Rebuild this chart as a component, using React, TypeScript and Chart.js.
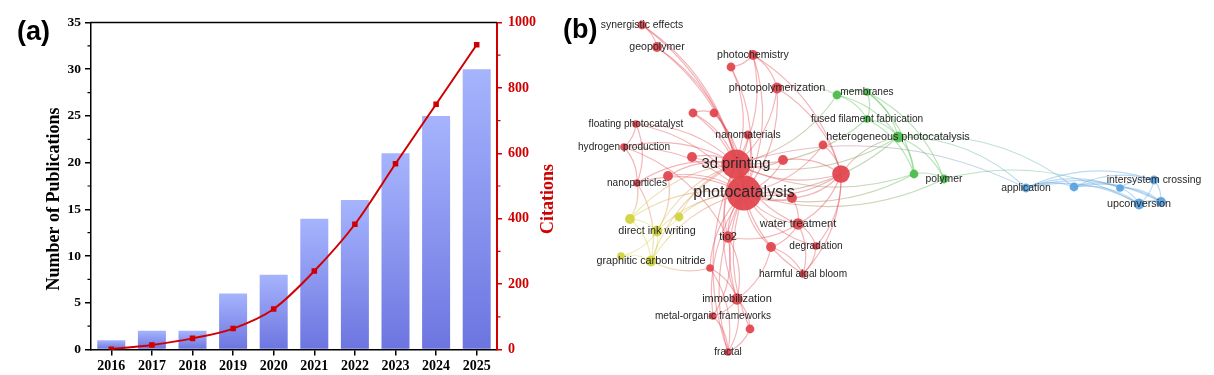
import React, { useEffect, useRef } from 'react';
import { Chart, registerables } from 'chart.js';

Chart.register(...registerables);

// ---------- Panel (a) data ----------
const years = ['2016', '2017', '2018', '2019', '2020', '2021', '2022', '2023', '2024', '2025'];
const publications = [1, 2, 2, 6, 8, 14, 16, 21, 25, 30];
const citations = [1, 14, 34, 64, 124, 240, 383, 568, 750, 932];
const publicationTicks = [0, 5, 10, 15, 20, 25, 30, 35];
const citationTicks = [0, 200, 400, 600, 800, 1000];

// ---------- Panel (b) data (keyword co-occurrence map) ----------
const keywordLabels = [
  'synergistic effects', 'geopolymer', 'photochemistry', '', 'photopolymerization',
  '', '', 'floating photocatalyst', 'nanomaterials', 'hydrogen production',
  '', '3d printing', '', '', '',
  '', 'nanoparticles', 'photocatalysis', '', 'water treatment',
  'tio2', '', 'degradation', '', 'harmful algal bloom',
  'immobilization', 'metal-organic frameworks', '', 'fractal',
  '', 'membranes', 'fused filament fabrication', 'heterogeneous photocatalysis', '', 'polymer',
  '', '', 'direct ink writing', '', 'graphitic carbon nitride',
  'application', '', '', 'intersystem crossing', 'upconversion', '',
];
const keywordX = [
  82, 97, 193, 171, 217,
  133, 154, 76, 188, 64,
  132, 176, 223, 263, 281,
  108, 77, 184, 232, 238,
  168, 211, 256, 150, 243,
  177, 153, 190, 168,
  277, 307, 307, 338, 354, 384,
  70, 119, 97, 61, 91,
  466, 514, 560, 594, 579, 601,
];
const keywordY = [
  25, 47, 55, 67, 88,
  113, 113, 124, 135, 147,
  157, 164, 160, 145, 174,
  176, 183, 193, 198, 224,
  237, 247, 246, 268, 274,
  299, 316, 329, 352,
  95, 92, 119, 137, 174, 179,
  219, 217, 231, 256, 261,
  188, 187, 188, 180, 204, 202,
];
const keywordOccurrences = [
  4, 5, 5, 4, 6,
  4, 4, 3, 4, 3,
  5, 44, 5, 4, 16,
  5, 3, 63, 5, 7,
  7, 5, 3, 3, 3,
  7, 3, 4, 3,
  4, 3, 3, 6, 4, 4,
  5, 4, 6, 3, 6,
  4, 4, 3, 4, 6, 5,
];
const keywordCluster = [
  0, 0, 0, 0, 0,
  0, 0, 0, 0, 0,
  0, 0, 0, 0, 0,
  0, 0, 0, 0, 0,
  0, 0, 0, 0, 0,
  0, 0, 0, 0,
  1, 1, 1, 1, 1, 1,
  2, 2, 2, 2, 2,
  3, 3, 3, 3, 3, 3,
];
const keywordLinks: [number, number][] = [
  [0, 1], [0, 11], [0, 17], [1, 11], [1, 17],
  [2, 3], [2, 4], [2, 11], [2, 17], [2, 14], [3, 11], [3, 17],
  [4, 11], [4, 17], [4, 14], [4, 29],
  [5, 6], [5, 11], [5, 17], [6, 11], [6, 17],
  [7, 9], [7, 11], [7, 17], [7, 16],
  [8, 11], [8, 17],
  [9, 11], [9, 17], [9, 16], [9, 20],
  [10, 11], [10, 17], [11, 17],
  [12, 11], [12, 17], [12, 14], [13, 14], [13, 17],
  [14, 11], [14, 17], [14, 19], [14, 22], [14, 32], [14, 18], [14, 24],
  [15, 11], [15, 17], [15, 37],
  [16, 17], [16, 11], [16, 35], [16, 39],
  [18, 17], [18, 11], [18, 19],
  [19, 17], [19, 11], [19, 20], [19, 22], [19, 24], [19, 21],
  [20, 17], [20, 11], [20, 25], [20, 26],
  [21, 17], [21, 24], [21, 25],
  [22, 17], [22, 24],
  [23, 17], [23, 39], [23, 25], [23, 28],
  [24, 17],
  [25, 17], [25, 11], [25, 26], [25, 28], [25, 27],
  [26, 17], [26, 28], [27, 17], [27, 28], [28, 17], [28, 11],
  [29, 30], [29, 31], [29, 32], [29, 11],
  [30, 31], [30, 32], [30, 33], [30, 34],
  [31, 32], [31, 11], [31, 33],
  [32, 34], [32, 33], [32, 17], [32, 11], [32, 40], [32, 41],
  [33, 34], [33, 17], [33, 11], [34, 17], [34, 44],
  [35, 37], [35, 39], [35, 11], [35, 17],
  [36, 37], [36, 11], [36, 17],
  [37, 39], [37, 17], [37, 11], [37, 38],
  [38, 39], [39, 17], [39, 11],
  [11, 40],
  [40, 41], [40, 42], [40, 43], [40, 44], [40, 45],
  [41, 42], [41, 43], [41, 44], [41, 45],
  [42, 44], [42, 43], [42, 45],
  [43, 44], [43, 45], [44, 45],
];
const clusterNames = ['cluster 1', 'cluster 2', 'cluster 3', 'cluster 4'];

// ---------- styles ----------
const SERIF = "'Liberation Serif', 'Times New Roman', serif";
const SANS = "'Liberation Sans', Arial, sans-serif";
const RED = '#d10000';
const clusterRGB = [
  [226, 71, 79],
  [77, 189, 77],
  [210, 212, 64],
  [91, 163, 224],
];

function PublicationsChart() {
  const ref = useRef<HTMLCanvasElement>(null);
  useEffect(() => {
    const canvas = ref.current;
    if (!canvas) return;

    const decor = {
      id: 'decor',
      afterDraw(chart: any) {
        const { ctx, chartArea: ca, scales } = chart;
        ctx.save();
        ctx.strokeStyle = '#000';
        ctx.lineWidth = 1.5;
        ctx.beginPath();
        ctx.moveTo(ca.left - 0.75, ca.top);
        ctx.lineTo(ca.right, ca.top);
        ctx.stroke();
        ctx.lineWidth = 1.2;
        ctx.beginPath();
        for (let i = 0; i < publicationTicks.length - 1; i++) {
          const v = (publicationTicks[i] + publicationTicks[i + 1]) / 2;
          const p = scales.y.getPixelForValue(v);
          ctx.moveTo(ca.left, p);
          ctx.lineTo(ca.left - 3.5, p);
        }
        ctx.stroke();
        ctx.strokeStyle = RED;
        ctx.beginPath();
        for (let i = 0; i < citationTicks.length - 1; i++) {
          const v = (citationTicks[i] + citationTicks[i + 1]) / 2;
          const p = scales.y1.getPixelForValue(v);
          ctx.moveTo(ca.right, p);
          ctx.lineTo(ca.right + 3.5, p);
        }
        ctx.stroke();
        ctx.textAlign = 'center';
        ctx.textBaseline = 'middle';
        ctx.fillStyle = '#000';
        ctx.font = `bold 18px ${SERIF}`;
        ctx.save();
        ctx.translate(54, 199);
        ctx.rotate(-Math.PI / 2);
        ctx.fillText('Number of Publications', 0, 0);
        ctx.restore();
        ctx.fillStyle = RED;
        ctx.save();
        ctx.translate(548, 199);
        ctx.rotate(-Math.PI / 2);
        ctx.fillText('Citations', 0, 0);
        ctx.restore();
        ctx.fillStyle = '#000';
        ctx.textAlign = 'left';
        ctx.font = `bold 27px ${SANS}`;
        ctx.fillText('(a)', 17, 33);
        ctx.restore();
      },
    };

    const chart = new Chart(canvas, {
      type: 'bar',
      data: {
        labels: years,
        datasets: [
          {
            type: 'line',
            label: 'Citations',
            data: citations,
            yAxisID: 'y1',
            borderColor: RED,
            backgroundColor: RED,
            borderWidth: 2,
            pointStyle: 'rect',
            pointRadius: 2.5,
            pointBackgroundColor: RED,
            pointBorderColor: RED,
            cubicInterpolationMode: 'monotone',
            order: 0,
          } as any,
          {
            type: 'bar',
            label: 'Number of Publications',
            data: publications,
            yAxisID: 'y',
            barPercentage: 0.69,
            categoryPercentage: 1,
            order: 1,
            backgroundColor: (c: any) => {
              const ch = c.chart;
              const ys = ch.scales && ch.scales.y;
              if (!ys || c.type !== 'data') return '#8f9cf2';
              const v = publications[c.dataIndex];
              const top = ys.getPixelForValue(v);
              const bottom = ys.getPixelForValue(0);
              if (!isFinite(top) || !isFinite(bottom) || top === bottom) return '#8f9cf2';
              const g = ch.ctx.createLinearGradient(0, top, 0, bottom);
              g.addColorStop(0, '#a6b4fd');
              g.addColorStop(1, '#6c75e0');
              return g;
            },
          } as any,
        ],
      },
      options: {
        responsive: false,
        animation: false,
        events: [],
        layout: { padding: { top: 22.5, left: 0, right: 0, bottom: 0 } },
        plugins: { legend: { display: false }, tooltip: { enabled: false } },
        scales: {
          x: {
            offset: true,
            grid: {
              offset: false,
              drawOnChartArea: false,
              tickLength: 6,
              color: '#000',
              lineWidth: 1.5,
            },
            border: { display: true, color: '#000', width: 1.5 },
            ticks: {
              color: '#000',
              font: { family: SERIF, weight: 'bold', size: 14 },
              padding: 2,
              maxRotation: 0,
              autoSkip: false,
            },
            afterFit: (s: any) => {
              s.height = 25.5;
            },
          },
          y: {
            position: 'left',
            min: 0,
            max: 35,
            afterBuildTicks: (s: any) => {
              s.ticks = publicationTicks.map((v) => ({ value: v }));
            },
            grid: {
              drawOnChartArea: false,
              tickLength: 6,
              color: '#000',
              lineWidth: 1.5,
            },
            border: { display: true, color: '#000', width: 1.5 },
            ticks: {
              color: '#000',
              font: { family: SERIF, weight: 'bold', size: 13.5 },
              padding: 4,
              callback: (v: any) => String(v),
            },
            afterFit: (s: any) => {
              s.width = 91;
            },
          },
          y1: {
            position: 'right',
            min: 0,
            max: 1000,
            afterBuildTicks: (s: any) => {
              s.ticks = citationTicks.map((v) => ({ value: v }));
            },
            grid: {
              drawOnChartArea: false,
              tickLength: 5,
              color: RED,
              lineWidth: 1.5,
            },
            border: { display: true, color: RED, width: 2 },
            ticks: {
              color: RED,
              font: { family: SERIF, weight: 'bold', size: 14 },
              padding: 6,
              callback: (v: any) => String(v),
            },
            afterFit: (s: any) => {
              s.width = 63;
            },
          },
        },
      } as any,
      plugins: [decor],
    });
    return () => chart.destroy();
  }, []);
  return <canvas ref={ref} width={560} height={375} style={{ display: 'block' }} />;
}

function NetworkChart() {
  const ref = useRef<HTMLCanvasElement>(null);
  useEffect(() => {
    const canvas = ref.current;
    if (!canvas) return;

    const nodeRadius = (w: number) => 2.2 * Math.sqrt(w);
    const labelSize = (w: number) => 8.5 + 0.95 * Math.sqrt(w);
    const rgba = (c: number[], a: number) => `rgba(${c[0]},${c[1]},${c[2]},${a})`;

    const edges = {
      id: 'edges',
      beforeDatasetsDraw(chart: any) {
        const { ctx, scales } = chart;
        const xs = scales.x;
        const ys = scales.y;
        ctx.save();
        ctx.lineWidth = 1.2;
        keywordLinks.forEach(([a, b]) => {
          const x1 = xs.getPixelForValue(keywordX[a]);
          const y1 = ys.getPixelForValue(keywordY[a]);
          const x2 = xs.getPixelForValue(keywordX[b]);
          const y2 = ys.getPixelForValue(keywordY[b]);
          const dx = x2 - x1;
          const dy = y2 - y1;
          const cx = (x1 + x2) / 2 + dy * 0.2;
          const cy = (y1 + y2) / 2 - dx * 0.2;
          const ca = clusterRGB[keywordCluster[a]];
          const cb = clusterRGB[keywordCluster[b]];
          if (ca === cb) {
            ctx.strokeStyle = rgba(ca, 0.4);
          } else {
            const g = ctx.createLinearGradient(x1, y1, x2, y2);
            g.addColorStop(0, rgba(ca, 0.4));
            g.addColorStop(1, rgba(cb, 0.4));
            ctx.strokeStyle = g;
          }
          ctx.beginPath();
          ctx.moveTo(x1, y1);
          ctx.quadraticCurveTo(cx, cy, x2, y2);
          ctx.stroke();
        });
        ctx.restore();
      },
    };

    const labels = {
      id: 'labels',
      afterDatasetsDraw(chart: any) {
        const { ctx, scales } = chart;
        ctx.save();
        ctx.textAlign = 'center';
        ctx.textBaseline = 'middle';
        ctx.fillStyle = '#262626';
        keywordLabels.forEach((t, i) => {
          if (!t) return;
          ctx.font = `${labelSize(keywordOccurrences[i]).toFixed(1)}px ${SANS}`;
          ctx.fillText(t, scales.x.getPixelForValue(keywordX[i]), scales.y.getPixelForValue(keywordY[i]));
        });
        ctx.fillStyle = '#000';
        ctx.textAlign = 'left';
        ctx.font = `bold 27px ${SANS}`;
        ctx.fillText('(b)', 3, 31);
        ctx.restore();
      },
    };

    const datasets = clusterNames.map((name, ci) => ({
      label: name,
      data: keywordLabels
        .map((_, i) => ({ x: keywordX[i], y: keywordY[i], w: keywordOccurrences[i], c: keywordCluster[i] }))
        .filter((p) => p.c === ci),
      pointRadius: (c: any) => nodeRadius(c.raw ? c.raw.w : 3),
      pointHoverRadius: (c: any) => nodeRadius(c.raw ? c.raw.w : 3),
      pointBackgroundColor: rgba(clusterRGB[ci], 0.95),
      pointBorderWidth: 0,
      clip: false,
    }));

    const chart = new Chart(canvas, {
      type: 'scatter',
      data: { datasets } as any,
      options: {
        responsive: false,
        animation: false,
        events: [],
        layout: { padding: 0, autoPadding: false },
        plugins: { legend: { display: false }, tooltip: { enabled: false } },
        scales: {
          x: { type: 'linear', display: false, min: 0, max: 654 },
          y: { type: 'linear', display: false, min: 0, max: 375, reverse: true },
        },
      } as any,
      plugins: [edges, labels],
    });
    return () => chart.destroy();
  }, []);
  return <canvas ref={ref} width={654} height={375} style={{ display: 'block' }} />;
}

export default function App() {
  return (
    <div style={{ position: 'absolute', left: 0, top: 0, width: 1214, height: 375, background: '#fff' }}>
      <div style={{ position: 'absolute', left: 0, top: 0, width: 560, height: 375 }}>
        <PublicationsChart />
      </div>
      <div style={{ position: 'absolute', left: 560, top: 0, width: 654, height: 375 }}>
        <NetworkChart />
      </div>
    </div>
  );
}
